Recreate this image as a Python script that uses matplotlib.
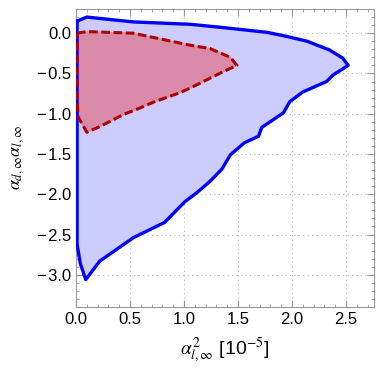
import matplotlib
matplotlib.use("Agg")
import matplotlib.pyplot as plt
from matplotlib.ticker import MultipleLocator

plt.rcParams['font.family'] = ['Liberation Sans', 'DejaVu Sans']
plt.rcParams['mathtext.fontset'] = 'stix'

# outer (blue) region
blue_x = [0.01, 0.10, 0.53, 1.06, 1.36, 1.77, 1.95, 2.14, 2.35, 2.47, 2.52,
          2.38, 2.32, 2.10, 1.98, 1.92, 1.72, 1.69, 1.56, 1.43, 1.35, 1.24, 1.12,
          1.01, 0.82, 0.53, 0.22, 0.09, 0.04, 0.01, 0.01]
blue_y = [0.15, 0.20, 0.14, 0.11, 0.07, 0.01, -0.04, -0.10, -0.21, -0.31, -0.40,
          -0.52, -0.60, -0.73, -0.85, -0.99, -1.17, -1.28, -1.36, -1.51, -1.69, -1.84, -1.98,
          -2.09, -2.35, -2.54, -2.83, -3.06, -2.86, -2.62, 0.15]

# inner (red) region
red_x = [0.01, 0.10, 0.53, 1.06, 1.24, 1.43, 1.49, 1.36, 1.24, 1.06, 0.96,
         0.71, 0.59, 0.44, 0.22, 0.10, 0.02, 0.01, 0.01]
red_y = [0.0, 0.02, 0.0, -0.15, -0.19, -0.30, -0.40, -0.48, -0.56, -0.68, -0.74,
         -0.86, -0.93, -1.01, -1.16, -1.23, -1.04, -0.83, 0.0]

fig = plt.figure(figsize=(3.79, 3.84), dpi=100)
ax = fig.add_axes([0.2005, 0.2005, 0.7865, 0.776])

ax.fill(blue_x, blue_y, color='#ccccff', zorder=1)
ax.plot(blue_x, blue_y, color='#0000ff', lw=2.4, zorder=3)
ax.fill(red_x, red_y, color='#d98aa8', zorder=2)
ax.plot(red_x, red_y, color='#aa0000', lw=2.2, ls=(0, (2.8, 1.2)), zorder=4)

ax.set_xlim(0, 2.76)
ax.set_ylim(-3.4, 0.3)
ax.xaxis.set_major_locator(MultipleLocator(0.5))
ax.xaxis.set_minor_locator(MultipleLocator(0.1))
ax.yaxis.set_major_locator(MultipleLocator(0.5))
ax.yaxis.set_minor_locator(MultipleLocator(0.1))
ax.xaxis.set_major_formatter(lambda v, p: f"{v:.1f}")
ax.yaxis.set_major_formatter(lambda v, p: f"{v:.1f}".replace('-', '\u2212\u200a'))
ax.tick_params(which='both', direction='in', top=True, right=True, color='#999999',
               labelsize=12)
ax.tick_params(which='major', length=5)
ax.tick_params(which='minor', length=2.5)
for s in ax.spines.values():
    s.set_color('#999999')
ax.grid(True, which='major', color='#bbbbbb', ls=(0, (1, 3)), lw=0.8)
ax.set_axisbelow(True)

ax.set_xlabel(r'$\alpha^2_{l,\infty}$ [10$^{-5}$]', fontsize=14, labelpad=6)
ax.set_ylabel(r'$\alpha_{d,\infty}\alpha_{l,\infty}$', fontsize=13, labelpad=8)

fig.savefig('out.png', dpi=100)
